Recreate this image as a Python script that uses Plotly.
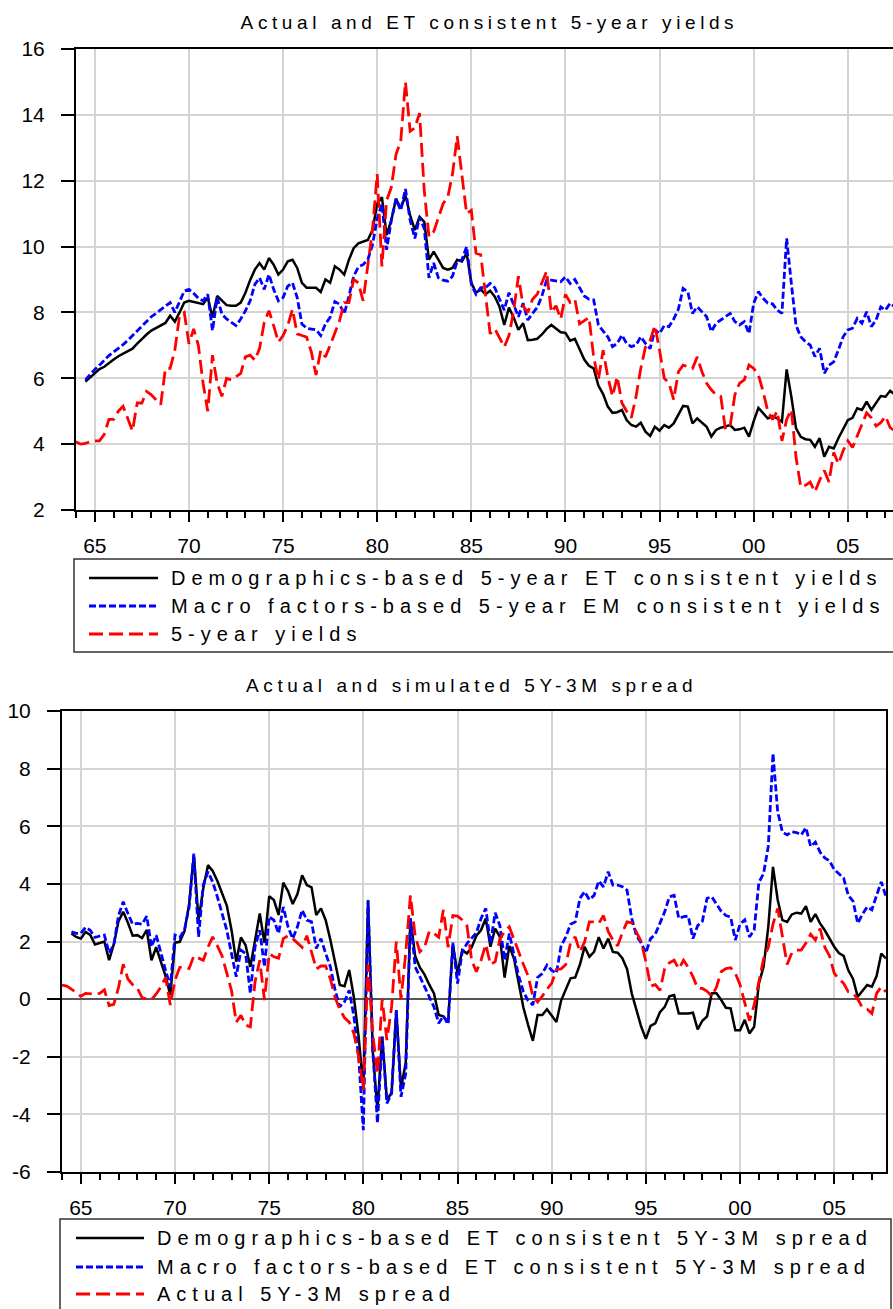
import plotly.graph_objects as go

# ---------------- data (quarterly, 1964Q1 - 2007Q4) ----------------
START_YEAR = 1964
N_QUARTERS = 176
quarters = [START_YEAR + i / 4 for i in range(N_QUARTERS)]

year_ticks = [1965, 1970, 1975, 1980, 1985, 1990, 1995, 2000, 2005]
year_labels = ["65", "70", "75", "80", "85", "90", "95", "00", "05"]
minor_years = list(range(1964, 2008))

yield_ticks = [2, 4, 6, 8, 10, 12, 14, 16]
spread_ticks = [-6, -4, -2, 0, 2, 4, 6, 8, 10]
spread_labels = ["-6", "-4", "-2", "0", "2", "4", "6", "8", "10"]

# Panel 1: 5-year yields
demo_5y = [None, None,
    5.9, 6.02, 6.15, 6.28, 6.35, 6.47, 6.57, 6.67, 6.75, 6.82,
    6.9, 7.05, 7.2, 7.33, 7.45, 7.52, 7.6, 7.68, 7.9, 7.72,
    8.0, 8.3, 8.35, 8.32, 8.28, 8.25, 8.45, 7.85, 8.5, 8.35,
    8.22, 8.2, 8.2, 8.3, 8.6, 8.98, 9.3, 9.5, 9.3, 9.65,
    9.45, 9.15, 9.3, 9.55, 9.6, 9.35, 8.9, 8.75, 8.75, 8.75,
    8.62, 9.0, 8.9, 9.4, 9.3, 9.15, 9.6, 9.95, 10.1, 10.15,
    10.2, 10.5, 11.3, 11.5, 10.35, 10.8, 11.45, 11.15, 11.55, 10.95,
    10.5, 10.9, 10.75, 9.6, 9.85, 9.6, 9.35, 9.3, 9.35, 9.6,
    9.55, 9.8, 8.9, 8.6, 8.7, 8.55, 8.66, 8.48, 8.17, 7.62,
    8.15, 7.85, 7.47, 7.67, 7.16, 7.17, 7.2, 7.33, 7.5, 7.62,
    7.5, 7.4, 7.38, 7.14, 7.2, 6.86, 6.57, 6.38, 6.3, 5.78,
    5.52, 5.14, 4.95, 4.97, 5.04, 4.73, 4.58, 4.53, 4.65, 4.38,
    4.25, 4.53, 4.41, 4.58, 4.5, 4.63, 4.9, 5.16, 5.14, 4.63,
    4.78, 4.66, 4.53, 4.23, 4.43, 4.5, 4.53, 4.58, 4.43, 4.45,
    4.5, 4.23, 4.7, 5.1, 4.94, 4.78, 4.85, 4.78, 4.68, 6.27,
    5.44, 4.48, 4.22, 4.15, 4.13, 3.92, 4.18, 3.62, 3.92, 3.87,
    4.18, 4.48, 4.73, 4.8, 5.09, 5.04, 5.29, 5.04, 5.24, 5.46,
    5.44, 5.62, 5.5, 5.55]

macro_5y = [None, None,
    5.95, 6.12, 6.27, 6.4, 6.55, 6.69, 6.8, 6.9, 7.02, 7.15,
    7.3, 7.45, 7.58, 7.75, 7.87, 7.97, 8.08, 8.18, 8.3, 8.0,
    8.3, 8.65, 8.7, 8.58, 8.43, 8.35, 8.55, 7.45, 8.45, 7.95,
    7.8, 7.7, 7.6, 7.8, 8.05, 8.35, 8.85, 9.05, 8.7, 9.15,
    8.7, 8.35, 8.45, 8.8, 8.9, 8.45, 7.65, 7.52, 7.5, 7.47,
    7.3, 7.65, 7.85, 8.33, 8.25, 7.95, 8.5, 9.1, 9.38, 9.45,
    9.6, 10.05, 10.85, 11.3, 9.9, 10.8, 11.45, 11.1, 11.75, 10.8,
    10.25, 10.9, 10.55, 9.05, 9.5, 9.05, 8.98, 8.95, 9.1, 9.55,
    9.6, 10.0, 8.85, 8.55, 8.75, 8.75, 8.88, 8.75, 8.4, 8.07,
    8.6, 8.25, 7.87, 8.28, 7.77, 7.97, 8.15, 8.5, 8.98, 8.98,
    8.95, 8.93, 9.08, 8.88, 9.0, 8.75, 8.5, 8.4, 8.38, 7.62,
    7.45, 7.26, 6.96, 7.06, 7.31, 7.06, 6.96, 7.01, 7.26, 7.06,
    6.9, 7.47, 7.36, 7.6, 7.57, 7.8, 8.1, 8.73, 8.63, 7.97,
    8.17, 8.02, 7.87, 7.42, 7.67, 7.77, 7.87, 7.97, 7.72, 7.62,
    7.72, 7.36, 8.28, 8.63, 8.43, 8.28, 8.26, 8.07, 7.97, 10.25,
    8.88, 7.6, 7.26, 7.11, 7.01, 6.66, 6.91, 6.15, 6.4, 6.5,
    6.86, 7.26, 7.47, 7.52, 7.82, 7.67, 8.02, 7.57, 7.77, 8.17,
    8.07, 8.28, 8.17, 8.2]

actual_5y = [
    4.07, 4.0, 4.02, 4.08, 4.1, 4.1, 4.3, 4.75, 4.75, 5.0,
    5.15, 4.8, 4.4, 5.25, 5.25, 5.6, 5.5, 5.35, 5.2, 6.3,
    6.3, 6.85, 7.9, 8.0, 7.05, 7.5, 7.0, 5.85, 5.0, 6.7,
    5.85, 5.45, 6.0, 5.95, 6.05, 6.15, 6.65, 6.7, 6.55, 6.9,
    7.7, 8.05, 7.6, 7.1, 7.3, 7.6, 8.1, 7.35, 7.3, 7.25,
    6.8, 6.1, 6.85, 6.65, 7.0, 7.4, 7.75, 8.3, 8.3, 9.0,
    8.9, 8.35, 9.5, 10.5, 12.2, 9.4, 11.4, 11.8, 12.8, 13.2,
    15.0, 13.5, 13.6, 14.05, 11.7, 10.3, 10.45, 10.9, 11.3, 11.5,
    12.2, 13.35, 12.2, 11.0, 11.1, 9.8, 9.75, 8.5, 7.35, 7.5,
    7.2, 6.95, 7.3, 8.05, 9.1, 8.2, 8.0, 8.4, 8.55, 8.9,
    9.25, 8.0, 8.2, 7.8, 8.55, 8.3, 8.4, 7.65, 7.75, 7.85,
    6.65, 5.95, 6.85, 6.05, 5.45, 6.05, 5.25, 5.0, 4.8, 5.45,
    6.3, 6.95, 7.15, 7.6, 6.85, 6.0, 5.85, 5.35, 6.2, 6.4,
    6.35, 6.3, 6.65, 6.2, 5.85, 5.65, 5.5, 5.45, 4.45, 4.55,
    5.5, 5.85, 5.95, 6.4, 6.3, 6.1, 5.6, 5.0, 4.75, 5.0,
    4.1, 4.75, 5.05, 3.6, 2.7, 2.75, 2.85, 2.55, 2.9, 3.2,
    2.85, 3.75, 3.4, 3.8, 4.1, 3.9, 4.25, 4.6, 4.95, 4.8,
    4.55, 4.65, 4.85, 4.5, 4.4, 4.2]

# Panel 2: 5Y-3M spread
demo_spread = [None, None,
    2.28, 2.16, 2.1, 2.33, 2.23, 1.9, 1.95, 2.0, 1.35, 1.9,
    2.7, 3.03, 2.65, 2.2, 2.22, 2.12, 2.4, 1.35, 1.8, 1.3,
    0.8, 0.14, 1.96, 1.99, 2.35, 3.3, 5.0, 2.74, 3.84, 4.65,
    4.45, 4.1, 3.65, 3.25, 2.4, 1.3, 2.14, 1.87, 1.12, 2.05,
    2.97, 1.95, 3.57, 3.44, 2.92, 4.04, 3.75, 3.3, 3.65, 4.3,
    3.96, 3.88, 2.92, 3.15, 2.74, 2.05, 1.3, 0.49, 0.45, 1.01,
    0.05, -1.3, -3.1, 3.4, -1.8, -3.85, -1.3, -3.5, -3.25, -0.4,
    -3.1, -2.2, 2.8, 1.5, 1.1, 0.85, 0.5, 0.2, -0.55, -0.6,
    -0.8, 1.9, 0.9, 1.7, 1.58, 1.8, 2.2, 2.4, 2.8, 1.82,
    2.45, 2.16, 0.75, 1.85, 1.4, 0.55, -0.3, -0.9, -1.45, -0.55,
    -0.55, -0.35, -0.55, -0.79, -0.05, 0.33, 0.72, 0.75, 1.2, 1.82,
    1.47, 1.64, 2.15, 1.76, 2.1, 1.64, 1.61, 1.42, 1.05, 0.2,
    -0.35, -0.95, -1.38, -0.93, -0.84, -0.45, -0.27, 0.1, 0.14, -0.5,
    -0.5, -0.5, -0.47, -1.05, -0.75, -0.6, 0.2, 0.2, -0.03, -0.3,
    -0.32, -1.08, -1.08, -0.72, -1.19, -0.96, 0.54, 1.12, 2.51, 4.59,
    3.44, 2.74, 2.68, 2.94, 3.0, 2.97, 3.23, 2.68, 2.95, 2.63,
    2.39, 2.1, 1.82, 1.6, 1.5, 1.0, 0.7, 0.08, 0.3, 0.49,
    0.43, 0.8, 1.58, 1.41]

macro_spread = [None, None,
    2.34, 2.28, 2.28, 2.49, 2.39, 2.14, 2.19, 2.22, 1.6, 1.87,
    2.9, 3.38, 2.97, 2.6, 2.63, 2.6, 2.88, 1.82, 2.22, 1.58,
    1.0, 0.43, 2.22, 2.14, 2.39, 3.2, 5.05, 2.16, 3.96, 4.42,
    4.07, 3.55, 2.97, 2.39, 1.58, 0.78, 1.7, 1.58, 0.2, 1.82,
    2.39, 1.12, 2.86, 2.74, 2.28, 3.2, 2.51, 2.1, 2.51, 3.09,
    2.74, 2.68, 1.76, 2.1, 1.58, 1.12, 0.31, -0.27, -0.09, 0.31,
    -0.61, -2.0, -4.55, 3.44, -1.77, -4.3, -1.31, -3.62, -3.27, -0.38,
    -3.39, -2.58, 2.8, 1.12, 0.78, 0.43, 0.08, -0.27, -0.84, -0.59,
    -0.87, 1.96, 0.54, 1.64, 1.93, 2.1, 2.3, 2.8, 3.15, 1.93,
    3.0, 2.55, 1.35, 2.28, 1.5, 0.8, 0.25, -0.05, -0.2, 0.75,
    0.89, 1.18, 1.0, 0.9, 1.85, 2.16, 2.6, 2.68, 3.5, 3.73,
    3.45, 3.6, 4.1, 3.9, 4.42, 3.96, 3.96, 3.9, 3.78, 2.8,
    2.2, 1.95, 1.6, 2.1, 2.25, 2.63, 3.03, 3.55, 3.6, 2.8,
    2.86, 2.88, 2.1, 2.55, 2.7, 3.5, 3.55, 3.3, 3.05, 2.9,
    2.85, 2.05, 2.6, 2.75, 2.16, 2.4, 4.05, 4.36, 5.3, 8.53,
    6.5, 5.8, 5.7, 5.81, 5.78, 5.7, 5.95, 5.3, 5.45, 5.1,
    4.9, 4.8, 4.5, 4.35, 4.2, 3.6, 3.4, 2.63, 2.95, 3.2,
    3.1, 3.6, 4.07, 3.55]

actual_spread = [
    0.49, 0.45, 0.35, 0.22, 0.1, 0.2, 0.18, 0.17, 0.2, 0.32,
    -0.22, -0.18, 0.4, 1.21, 0.7, 0.5, 0.38, 0.05, 0.0, -0.02,
    0.18, 0.42, 0.75, -0.2, 0.66, 1.1, 1.12, 1.06, 1.5, 1.42,
    1.35, 1.8, 2.16, 1.85, 1.5, 0.9, 0.3, -0.8, -0.56, -0.9,
    -0.96, 0.6, 1.35, -0.03, 1.58, 1.47, 1.42, 2.1, 2.2, 2.1,
    1.95, 1.8, 2.2, 1.62, 1.05, 1.15, 1.15, 0.7, 0.05, -0.35,
    -0.65, -0.8, -1.2, -2.0, -3.15, 1.2, -1.2, -2.6, 0.0, -1.42,
    -0.27, 2.0, 0.0, 1.6, 3.6, 2.2, 1.64, 1.8, 2.35, 2.28,
    2.15, 3.1, 1.8, 2.9, 2.88, 2.75, 2.55, 1.35, 0.95, 1.35,
    1.9, 1.2, 1.3, 2.1, 2.34, 2.51, 2.05, 1.65, 1.2, 0.8,
    0.1, -0.1, 0.1, 0.35, 0.55, 1.03, 1.05, 1.2, 1.95, 2.16,
    1.64, 1.99, 2.68, 2.68, 2.63, 2.9, 2.35, 2.05, 1.85, 2.3,
    2.68, 2.65, 2.34, 2.0, 1.3, 0.45, 0.5, 0.3, 1.06, 1.26,
    1.35, 1.05, 1.35, 1.1, 0.78, 0.38, 0.37, 0.27, 0.1, 0.42,
    0.95, 1.06, 1.09, 0.9, 0.5, -0.1, -0.75, -0.2, 0.6, 1.4,
    1.8, 2.6, 3.15, 2.2, 1.2, 1.6, 1.7, 1.7, 1.95, 2.25,
    2.05, 2.45, 1.8, 1.5, 0.9, 0.7, 0.55, 0.25, 0.2, 0.0,
    -0.3, -0.35, -0.5, 0.2, 0.43, 0.25]

# ---------------- styling ----------------
W, H = 893, 1309
FONT = "Liberation Sans, Arial, sans-serif"
BLACK_LINE = dict(color="black", width=2.5)
BLUE_LINE = dict(color="#0000ff", width=2.8, dash="7px,3px")
RED_LINE = dict(color="#ff0000", width=2.8, dash="14px,6px")
GRID = "#d4d4d4"


def px_x(p):
    return p / W


def px_y(p):
    return 1 - p / H


fig = go.Figure()

panels = [
    ("x", "y", demo_5y, macro_5y, actual_5y),
    ("x2", "y2", demo_spread, macro_spread, actual_spread),
]
for xa, ya, demo, macro, actual in panels:
    for series, style in ((demo, BLACK_LINE), (macro, BLUE_LINE), (actual, RED_LINE)):
        fig.add_trace(go.Scatter(
            x=quarters, y=series, mode="lines", line=style,
            xaxis=xa, yaxis=ya, showlegend=False, hoverinfo="skip",
            connectgaps=False,
        ))

tick_font = dict(family=FONT, size=21, color="black")
common_x = dict(
    tickmode="array", tickvals=year_ticks, ticktext=year_labels,
    ticks="outside", ticklen=10, tickwidth=1.5, tickcolor="black",
    showline=True, linecolor="black", linewidth=2, mirror=True,
    showgrid=True, gridcolor=GRID, gridwidth=1.5, zeroline=False,
    tickfont=tick_font, ticklabelstandoff=6,
    minor=dict(tickmode="array", tickvals=minor_years, ticks="outside",
               ticklen=6, tickwidth=1.5, tickcolor="black", showgrid=False),
    fixedrange=True,
)
common_y = dict(
    ticks="outside", ticklen=13, tickwidth=1.5, tickcolor="black",
    showline=True, linecolor="black", linewidth=2,
    showgrid=True, gridcolor=GRID, gridwidth=1.5,
    tickfont=tick_font, ticklabelstandoff=12, fixedrange=True,
)

fig.update_layout(
    width=W, height=H, autosize=False,
    margin=dict(l=0, r=0, t=0, b=0, pad=0, autoexpand=False),
    paper_bgcolor="white", plot_bgcolor="white",
    xaxis=dict(common_x, domain=[px_x(76), 1.0], range=[1964.0, 2007.40],
               anchor="y"),
    yaxis=dict(common_y, domain=[px_y(510), px_y(49)], range=[2, 16],
               tickmode="array", tickvals=yield_ticks,
               anchor="x", mirror=False, zeroline=False),
    xaxis2=dict(common_x, domain=[px_x(62), px_x(886)], range=[1964.0, 2007.75],
                anchor="y2"),
    yaxis2=dict(common_y, domain=[px_y(1172), px_y(711)], range=[-6, 10],
                tickmode="array", tickvals=spread_ticks, ticktext=spread_labels,
                anchor="x2", mirror=True, zeroline=True,
                zerolinecolor="#555555", zerolinewidth=1.5),
)

# ---------------- titles ----------------
title_font = dict(family=FONT, size=19, color="black")
annotations = [
    dict(text="Actual and ET consistent 5-year yields", x=px_x(489), y=px_y(22)),
    dict(text="Actual and simulated 5Y-3M spread", x=px_x(471), y=px_y(685)),
]
for a in annotations:
    fig.add_annotation(xref="paper", yref="paper", xanchor="center", yanchor="middle",
                       showarrow=False, font=title_font, **a)

# ---------------- legend boxes ----------------
legend_font = dict(family=FONT, size=20, color="black")
legends = [
    dict(box=(74, 559, 900, 652), rows=(578, 606, 634), sample=(89, 158), text_x=169,
         labels=["Demographics-based 5-year ET consistent yields",
                 "Macro factors-based 5-year EM consistent yields",
                 "5-year yields"]),
    dict(box=(60, 1219, 891, 1330), rows=(1238, 1267, 1294), sample=(76, 144), text_x=155,
         labels=["Demographics-based ET consistent 5Y-3M spread",
                 "Macro factors-based ET consistent 5Y-3M spread",
                 "Actual 5Y-3M spread"]),
]
styles = [BLACK_LINE, BLUE_LINE, RED_LINE]
for lg in legends:
    x0, y0, x1, y1 = lg["box"]
    fig.add_shape(type="rect", xref="paper", yref="paper",
                  x0=px_x(x0), x1=px_x(x1), y0=px_y(y0), y1=px_y(y1),
                  line=dict(color="#333333", width=1.5), fillcolor="rgba(0,0,0,0)")
    for row_y, style, label in zip(lg["rows"], styles, lg["labels"]):
        fig.add_shape(type="line", xref="paper", yref="paper",
                      x0=px_x(lg["sample"][0]), x1=px_x(lg["sample"][1]),
                      y0=px_y(row_y), y1=px_y(row_y), line=style)
        fig.add_annotation(xref="paper", yref="paper", x=px_x(lg["text_x"]), y=px_y(row_y),
                           xanchor="left", yanchor="middle", align="left",
                           showarrow=False, text=label, font=legend_font)

# Wide letter spacing on titles and legend labels
spacing_js = """
var gd = document.getElementById('{plot_id}');
function spaceText() {
  gd.querySelectorAll('.annotation-text').forEach(function (t) {
    var fs = parseFloat(t.style.fontSize);
    t.style.letterSpacing = (fs < 19.5) ? '4.6px' : '6px';
  });
}
spaceText();
gd.on('plotly_afterplot', spaceText);
"""

fig.write_html("out.html", config={"displayModeBar": False}, post_script=spacing_js)
